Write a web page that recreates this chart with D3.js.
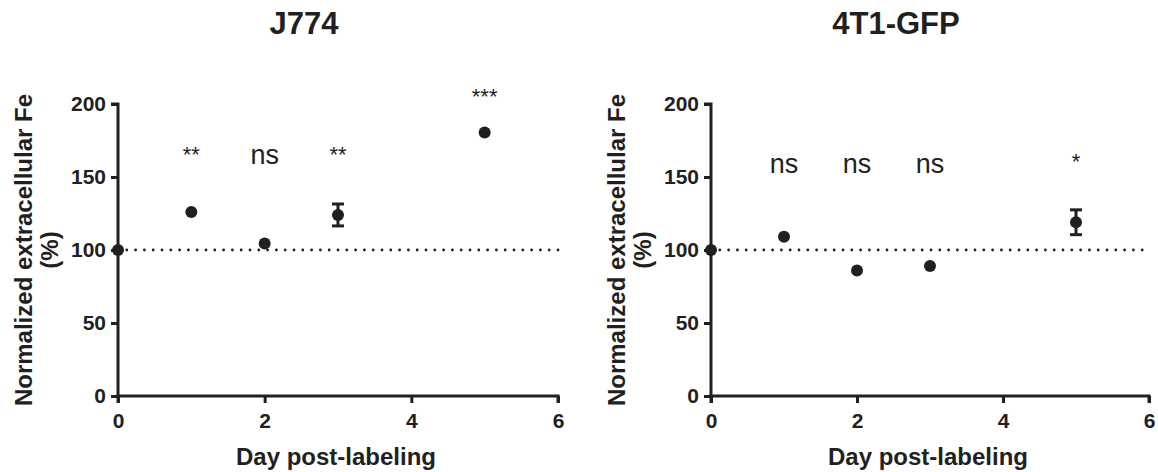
<!DOCTYPE html>
<html><head><meta charset="utf-8">
<script src="https://cdn.jsdelivr.net/npm/d3@7"></script>
<style>body{margin:0;background:#fff}svg{display:block}text{font-family:"Liberation Sans",Arial,sans-serif;fill:#231f20}</style>
</head><body><svg id="c" width="1158" height="472"></svg>
<script>
const panels = ["J774", "4T1-GFP"];
const days = [0, 1, 2, 3, 5];
const j774Values = [100, 126, 104.5, 124, 180.5];
const j774Err = [0, 0, 0, 7.5, 0];
const t41Values = [100, 109, 86, 89, 119];
const t41Err = [0, 0, 0, 0, 8.5];
const j774Sig = ["", "**", "ns", "**", "***"];
const t41Sig = ["", "ns", "ns", "ns", "*"];
const sigHeights = [[0, 168, 163.5, 168, 208], [0, 157.5, 157.5, 157.5, 163.5]];
const xTicks = [0, 2, 4, 6];
const yTicks = [0, 50, 100, 150, 200];
const refLine = 100;

const svg = d3.select("#c");
const ink = "#231f20";
const data = [
  {title: panels[0], vals: j774Values, err: j774Err, sig: j774Sig, sh: sigHeights[0], x0: 118, x1: 558},
  {title: panels[1], vals: t41Values, err: t41Err, sig: t41Sig, sh: sigHeights[1], x0: 711, x1: 1149}
];
data.forEach(p => {
  const g = svg.append("g");
  const x = d3.scaleLinear().domain([0, 6]).range([p.x0, p.x1]);
  const y = d3.scaleLinear().domain([0, 200]).range([396, 104]);
  // title
  g.append("text").attr("x", (p.x0 + p.x1) / 2 - 34).attr("y", 34).attr("text-anchor", "middle")
    .style("font-size", "31px").style("font-weight", "bold").text(p.title);
  // reference dotted line
  g.append("line").attr("x1", x(0)).attr("x2", x(6)).attr("y1", y(refLine)).attr("y2", y(refLine))
    .attr("stroke", ink).attr("stroke-width", 2.8).attr("stroke-linecap", "round")
    .attr("stroke-dasharray", "0 8.8");
  // axes
  const ya = g.append("g").attr("transform", `translate(${p.x0},0)`)
    .call(d3.axisLeft(y).tickValues(yTicks).tickFormat(d3.format("d")).tickSize(7).tickPadding(5));
  const xa = g.append("g").attr("transform", `translate(0,396)`)
    .call(d3.axisBottom(x).tickValues(xTicks).tickFormat(d3.format("d")).tickSize(7).tickPadding(10));
  [ya, xa].forEach(a => {
    a.select(".domain").attr("stroke", ink).attr("stroke-width", 3);
    a.selectAll(".tick line").attr("stroke", ink).attr("stroke-width", 3);
    a.selectAll(".tick text").style("font-size", "21px").style("font-weight", "bold").attr("fill", ink)
      .style("font-family", "'Liberation Sans',Arial,sans-serif");
  });
  ya.select(".domain").attr("d", `M-7,${y(200)}H0V${y(0)}`);
  xa.select(".domain").attr("d", `M${x(0)},7V0H${x(6)}V7`);
  // axis labels
  g.append("text").attr("x", (p.x0 + p.x1) / 2 - 2).attr("y", 465).attr("text-anchor", "middle")
    .style("font-size", "24px").style("font-weight", "bold").text("Day post-labeling");
  const yl = g.append("text").attr("transform", `translate(${p.x0 - 86},${y(100)}) rotate(-90)`)
    .attr("text-anchor", "middle").style("font-size", "24px").style("font-weight", "bold");
  yl.append("tspan").attr("x", 0).attr("dy", 0).text("Normalized extracellular Fe");
  yl.append("tspan").attr("x", 0).attr("dy", 26).text("(%)");
  // error bars
  days.forEach((d, i) => {
    if (p.err[i] > 0) {
      const eg = g.append("g").attr("stroke", ink).attr("stroke-width", 3);
      eg.append("line").attr("x1", x(d)).attr("x2", x(d)).attr("y1", y(p.vals[i] - p.err[i])).attr("y2", y(p.vals[i] + p.err[i]));
      [p.vals[i] - p.err[i], p.vals[i] + p.err[i]].forEach(v =>
        eg.append("line").attr("x1", x(d) - 6).attr("x2", x(d) + 6).attr("y1", y(v)).attr("y2", y(v)));
    }
  });
  // points
  g.selectAll("circle.pt").data(days).enter().append("circle").attr("class", "pt")
    .attr("cx", d => x(d)).attr("cy", (d, i) => y(p.vals[i])).attr("r", 6).attr("fill", ink);
  // significance
  days.forEach((d, i) => {
    const s = p.sig[i];
    if (!s) return;
    const cy = y(p.sh[i]);
    const star = s[0] === "*";
    const fs = star ? 22 : 27;
    g.append("text").attr("x", x(d)).attr("y", star ? cy + 0.52 * fs : cy + 0.26 * fs)
      .attr("text-anchor", "middle").style("font-size", fs + "px").text(s);
  });
});
</script></body></html>
